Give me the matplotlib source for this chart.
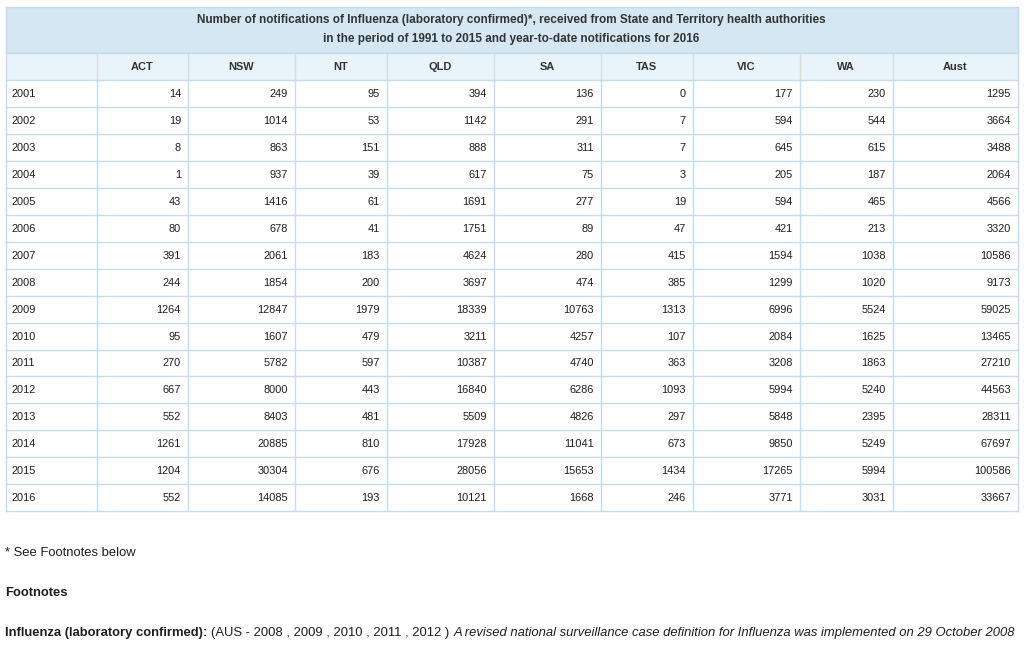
import matplotlib.pyplot as plt
from matplotlib.patches import Rectangle

plt.rcParams['font.family'] = ['Liberation Sans', 'DejaVu Sans']

# table data
TITLE1 = 'Number of notifications of Influenza (laboratory confirmed)*, received from State and Territory health authorities'
TITLE2 = 'in the period of 1991 to 2015 and year-to-date notifications for 2016'

columns = ['ACT', 'NSW', 'NT', 'QLD', 'SA', 'TAS', 'VIC', 'WA', 'Aust']
years = ['2001', '2002', '2003', '2004', '2005', '2006', '2007', '2008',
         '2009', '2010', '2011', '2012', '2013', '2014', '2015', '2016']

act = [14, 19, 8, 1, 43, 80, 391, 244, 1264, 95, 270, 667, 552, 1261, 1204, 552]
nsw = [249, 1014, 863, 937, 1416, 678, 2061, 1854, 12847, 1607, 5782, 8000, 8403, 20885, 30304, 14085]
nt = [95, 53, 151, 39, 61, 41, 183, 200, 1979, 479, 597, 443, 481, 810, 676, 193]
qld = [394, 1142, 888, 617, 1691, 1751, 4624, 3697, 18339, 3211, 10387, 16840, 5509, 17928, 28056, 10121]
sa = [136, 291, 311, 75, 277, 89, 280, 474, 10763, 4257, 4740, 6286, 4826, 11041, 15653, 1668]
tas = [0, 7, 7, 3, 19, 47, 415, 385, 1313, 107, 363, 1093, 297, 673, 1434, 246]
vic = [177, 594, 645, 205, 594, 421, 1594, 1299, 6996, 2084, 3208, 5994, 5848, 9850, 17265, 3771]
wa = [230, 544, 615, 187, 465, 213, 1038, 1020, 5524, 1625, 1863, 5240, 2395, 5249, 5994, 3031]
aust = [1295, 3664, 3488, 2064, 4566, 3320, 10586, 9173, 59025, 13465, 27210, 44563, 28311, 67697, 100586, 33667]

series = [act, nsw, nt, qld, sa, tas, vic, wa, aust]

# layout in pixels
EDGES = [5.5, 96.5, 187.5, 294.5, 386.5, 493.5, 600.5, 692.5, 799.5, 892.5, 1017.5]
TITLE_TOP, TITLE_BOT = 7, 53
HEAD_BOT = 80
ROW_H = 26.95

BAND = '#d5e7f2'
HEAD = '#e8f3fa'
LINE = '#c4dced'
TXT = '#1e1e1e'
FS = 7.9
FS_NOTE = 9.35

fig = plt.figure(figsize=(10.34, 6.5), dpi=100)
ax = fig.add_axes([0, 0, 1, 1])
ax.set_xlim(0, 1034)
ax.set_ylim(650, 0)
ax.axis('off')

left, right = EDGES[0], EDGES[-1]
width = right - left

# title band
ax.add_patch(Rectangle((left, TITLE_TOP), width, TITLE_BOT - TITLE_TOP,
                       facecolor=BAND, edgecolor=LINE, lw=1))
ax.text((left + right) / 2, 20.5, TITLE1, ha='center', va='center',
        fontsize=8.5, fontweight='bold', color='#333333')
ax.text((left + right) / 2, 39, TITLE2, ha='center', va='center',
        fontsize=8.5, fontweight='bold', color='#333333')

# header row
ax.add_patch(Rectangle((left, TITLE_BOT), width, HEAD_BOT - TITLE_BOT,
                       facecolor=HEAD, edgecolor='none'))
for i, name in enumerate(columns):
    x0, x1 = EDGES[i + 1], EDGES[i + 2]
    ax.text((x0 + x1) / 2, (TITLE_BOT + HEAD_BOT) / 2 + 0.5, name,
            ha='center', va='center', fontsize=FS, fontweight='bold', color='#333333')
for x in EDGES[1:-1]:
    ax.plot([x, x], [TITLE_BOT, HEAD_BOT], color='#dddddd', lw=1)

# body rows
body_bot = HEAD_BOT + ROW_H * len(years)
for r, year in enumerate(years):
    yc = HEAD_BOT + ROW_H * (r + 0.5) + 0.5
    ax.text(left + 6, yc, year, ha='left', va='center', fontsize=FS, color=TXT)
    for c, vals in enumerate(series):
        ax.text(EDGES[c + 2] - 6.5, yc, str(vals[r]), ha='right', va='center',
                fontsize=FS, color=TXT)

# grid lines
for r in range(len(years) + 1):
    y = HEAD_BOT + ROW_H * r
    ax.plot([left, right], [y, y], color=LINE, lw=1)
ax.plot([left, right], [TITLE_BOT, TITLE_BOT], color=LINE, lw=1)
for x in EDGES[1:-1]:
    ax.plot([x, x], [HEAD_BOT, body_bot], color=LINE, lw=1)
ax.plot([left, left], [TITLE_TOP, body_bot], color=LINE, lw=1)
ax.plot([right, right], [TITLE_TOP, body_bot], color=LINE, lw=1)

# footnotes
ax.text(5, 553, '* See Footnotes below', ha='left', va='center', fontsize=FS_NOTE, color=TXT)
ax.text(5, 593, 'Footnotes', ha='left', va='center', fontsize=FS_NOTE, fontweight='bold', color=TXT)

fig.canvas.draw()
renderer = fig.canvas.get_renderer()
inv = ax.transData.inverted()

t1 = ax.text(5, 633, 'Influenza (laboratory confirmed):', ha='left', va='center',
             fontsize=FS_NOTE, fontweight='bold', color=TXT)
bb = t1.get_window_extent(renderer)
x_next = inv.transform((bb.x1, 0))[0] + 4
t2 = ax.text(x_next, 633, '(AUS - 2008 , 2009 , 2010 , 2011 , 2012 )', ha='left', va='center',
             fontsize=FS_NOTE, color=TXT)
bb = t2.get_window_extent(renderer)
x_next = inv.transform((bb.x1, 0))[0] + 4
ax.text(x_next, 633, 'A revised national surveillance case definition for Influenza was implemented on 29 October 2008',
        ha='left', va='center', fontsize=FS_NOTE, style='italic', color=TXT)

fig.savefig('out.png', dpi=100)
